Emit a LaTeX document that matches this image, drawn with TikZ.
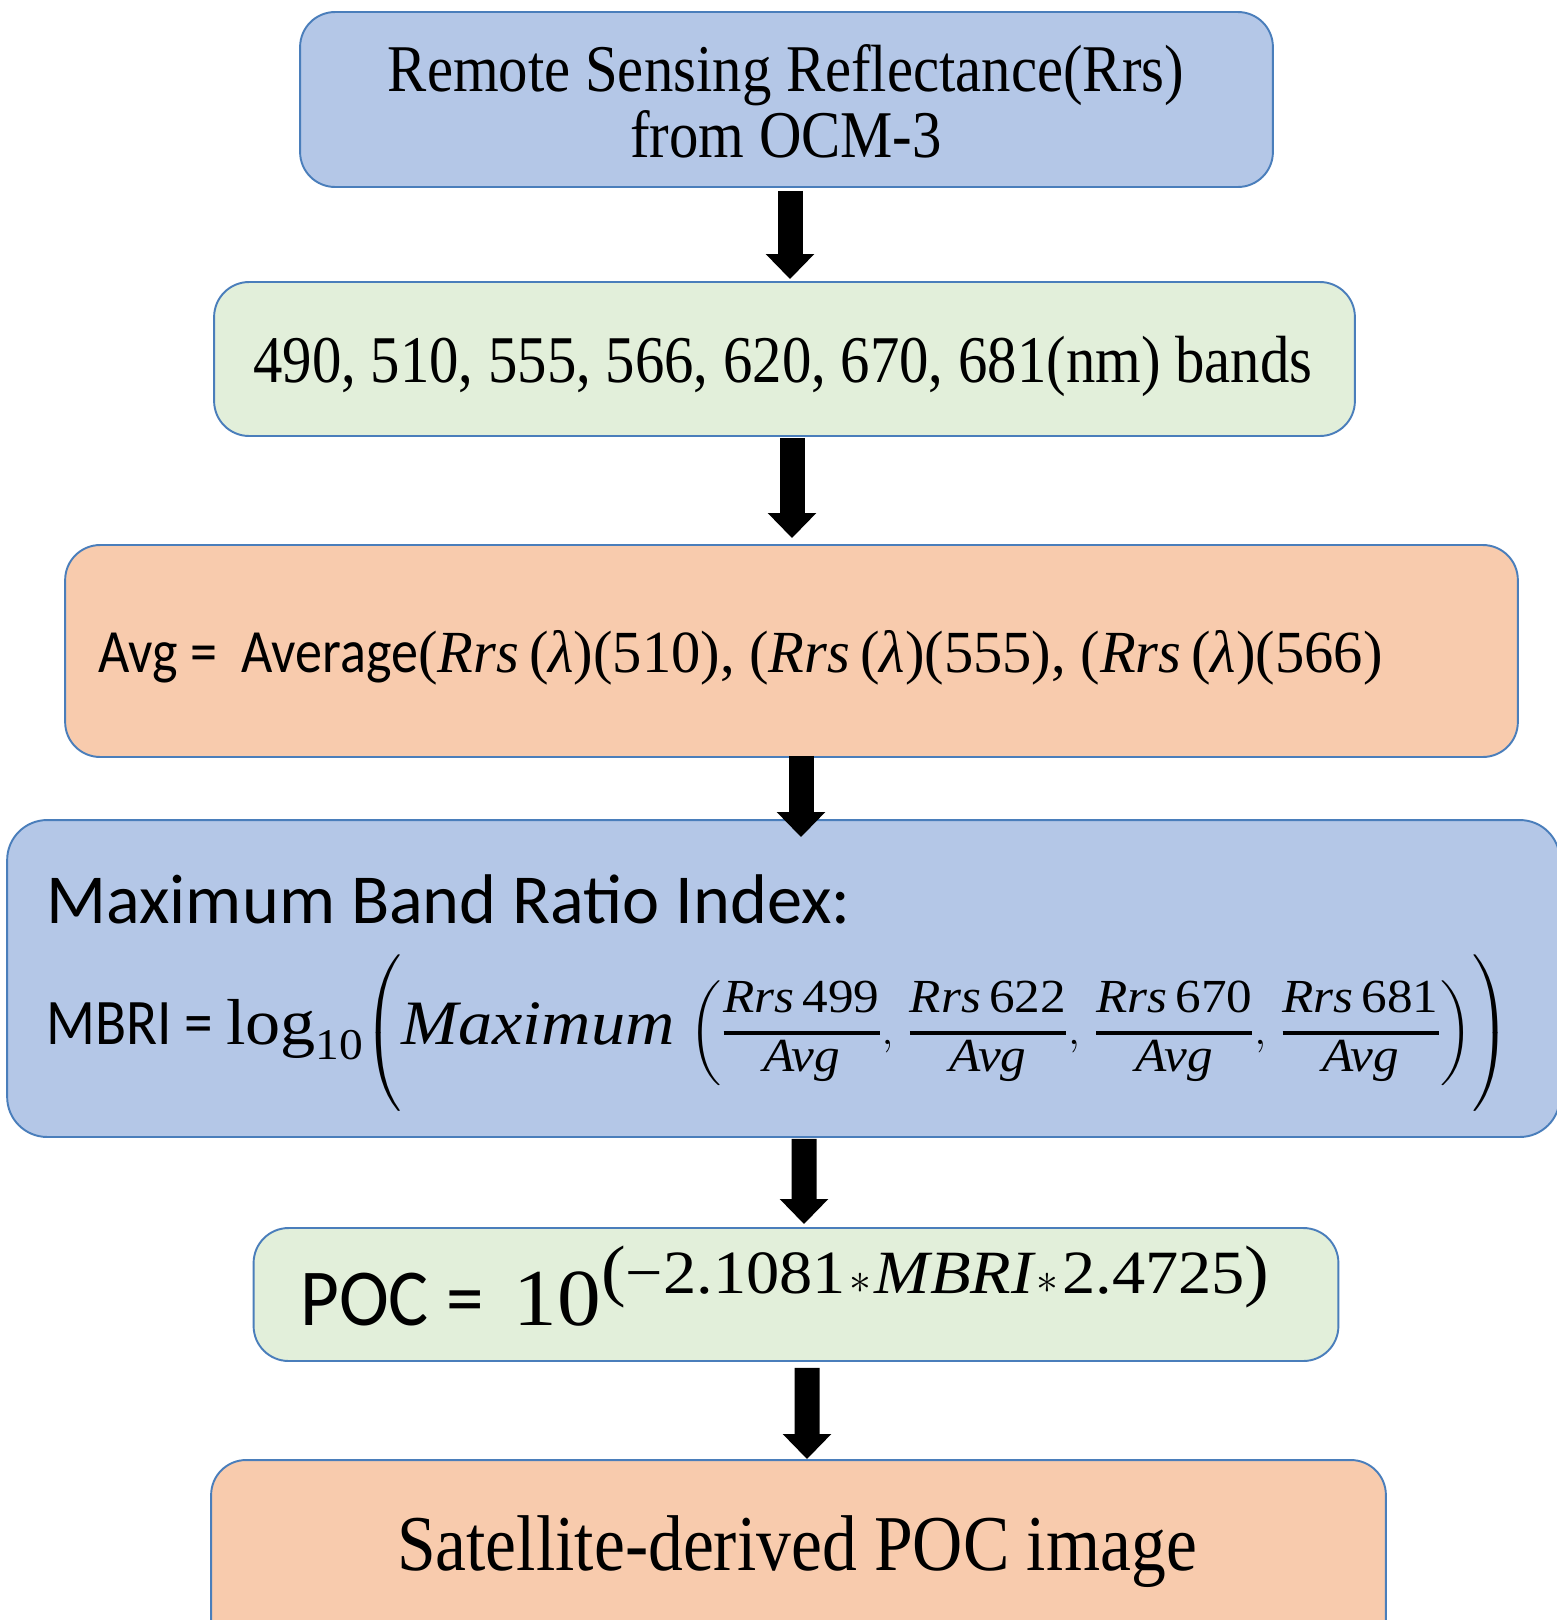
\documentclass[tikz,border=0pt]{standalone}
\usepackage{amsmath}
\usepackage{fontspec}
\usetikzlibrary{arrows.meta}
\newfontfamily\tnr{Liberation Serif}[FakeStretch=0.88]
\newfontfamily\calib{Carlito}[FakeStretch=0.88]
\newfontfamily\calibm{Carlito}[FakeStretch=0.93]
\newfontfamily\calibw{Carlito}
\newfontfamily\cmb{Liberation Serif}[FakeStretch=1.08]
\newfontfamily\cmbn{Liberation Serif}[FakeStretch=0.98]
\definecolor{fblue}{HTML}{B4C7E7}
\definecolor{fgreen}{HTML}{E2EFDA}
\definecolor{fpeach}{HTML}{F8CBAD}
\definecolor{bordc}{HTML}{4A7EBB}
\newcommand\fs[1]{\fontsize{#1}{#1}\selectfont}
\newcommand\myfr[1]{\genfrac{}{}{2.6pt}{1}{\hbox{\cmb\fs{27}\itshape Rrs\,\upshape #1\rule[-8pt]{0pt}{1pt}}}{\hbox{\cmb\fs{27}\itshape Avg}}}
\newcommand\mycomma{\mathpunct{,}\kern4pt}
\tikzset{
  flowbox/.style={draw=bordc, line width=1.1pt, rounded corners=0.7cm, inner sep=0pt},
  bigarrow/.style={line width=0.5cm, -{Triangle[width=0.94cm,length=0.5cm]}},
  txt/.style={inner sep=0pt, text=black}
}
\begin{document}
\begin{tikzpicture}[x=0.02cm, y=-0.02cm]
\useasboundingbox[fill=white] (0,0) rectangle (1557,1620);
% boxes
\node[flowbox, fill=fblue, minimum width=19.46cm, minimum height=3.5cm] (b1) at (786.5,99.5) {};
\node[flowbox, fill=fgreen, minimum width=22.82cm, minimum height=3.08cm] (b2) at (784.5,359) {};
\node[flowbox, fill=fpeach, minimum width=29.06cm, minimum height=4.24cm] (b3) at (791.5,651) {};
\node[flowbox, fill=fblue, rounded corners=0.8cm, minimum width=31.06cm, minimum height=6.34cm] (b4) at (783.5,978.5) {};
\node[flowbox, fill=fgreen, minimum width=21.7cm, minimum height=2.66cm] (b5) at (796,1294.5) {};
\node[flowbox, fill=fpeach, minimum width=23.5cm, minimum height=4cm] (b6) at (798.5,1560) {};
% arrows
\draw[bigarrow] ([shift={(3.5,3)}]b1.south) -- ([shift={(5.5,-2)}]b2.north);
\draw[bigarrow] ([shift={(7.5,1)}]b2.south) -- ([shift={(0.5,-6)}]b3.north);
\draw[bigarrow] ([shift={(9.5,-2)}]b3.south) -- ([shift={(17.5,18)}]b4.north);
\draw[bigarrow] ([shift={(20.5,1)}]b4.south) -- ([shift={(8,-3)}]b5.north);
\draw[bigarrow] ([shift={(11,6)}]b5.south) -- ([shift={(8.5,0)}]b6.north);
% texts
\node[txt, anchor=base] (t1a) at (786,91) {\tnr\fs{38}Remote Sensing Reflectance(Rrs)};
\node[txt, anchor=base] (t1b) at (786,157) {\tnr\fs{38}from OCM-3};
\node[txt, anchor=base west] (t2) at (253,382) {\tnr\fs{38}490, 510, 555, 566, 620, 670, 681(nm) bands};
\node[txt, anchor=base west] (t3) at (98,672) {\fs{35}{\calib Avg =\ \ Average}{\cmbn\fs{34}(\itshape Rrs\,\upshape(\itshape λ\upshape)(510), (\itshape Rrs\,\upshape(\itshape λ\upshape)(555), (\itshape Rrs\,\upshape(\itshape λ\upshape)(566)}};
\node[txt, anchor=base west] (t4a) at (46,923) {\calibw\fs{40}Maximum Band Ratio Index:};
\node[txt, anchor=base west] (t4b) at (46,1044) {\fs{37}{\calib MBRI = }{\cmb log}\raisebox{-9pt}{\cmb\fs{25}10}$\left(\vrule height 50pt depth 34pt width 0pt \hbox{\cmb\fs{36}\itshape Maximum}\,\left(\myfr{499}\mycomma\myfr{622}\mycomma\myfr{670}\mycomma\myfr{681}\right)\right)$};
\node[txt, anchor=base west] (t5) at (300,1325) {\fs{46}{\calibm POC = }\,{\cmb 10}\raisebox{18pt}{\cmb\fs{35}{\fs{39}(}−2.1081\kern2pt$\ast$\kern2pt\itshape MBRI\upshape\kern2pt$\ast$\kern2pt2.4725{\fs{39})}}};
\node[txt, anchor=base] (t6) at (797,1570) {\tnr\fs{45}Satellite-derived POC image};
\end{tikzpicture}
\end{document}
